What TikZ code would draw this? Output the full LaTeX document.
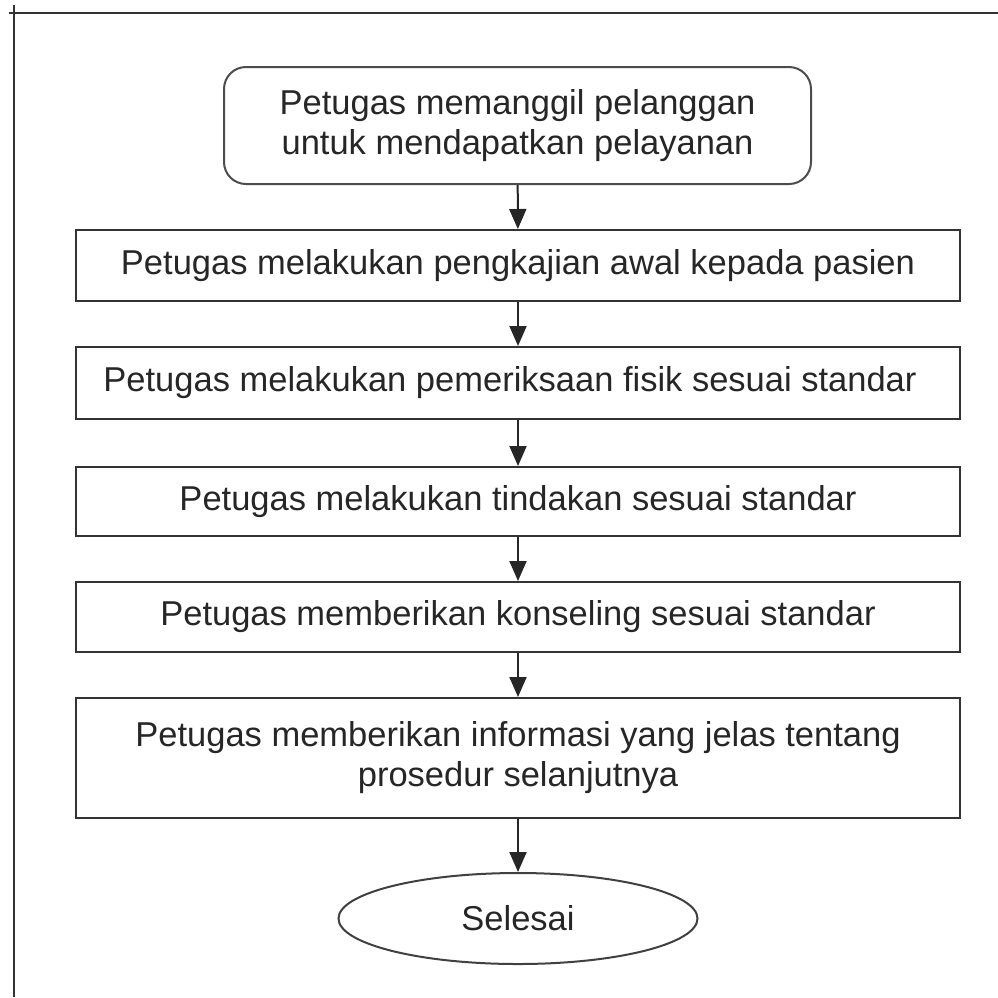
\documentclass[tikz,border=0pt]{standalone}
\usepackage{fontspec}
\setmainfont{Liberation Sans}
\usetikzlibrary{shapes.geometric,arrows.meta}
\begin{document}
\begin{tikzpicture}[x=1pt,y=-1pt,
  line width=2pt,
  every node/.style={font=\fontsize{34.5}{40}\selectfont, text=black!85, align=center, inner sep=0pt},
  stepbox/.style={draw=black!80, rectangle, minimum width=884pt},
  startbox/.style={draw=black!70, rectangle, rounded corners=22pt, minimum width=587pt, minimum height=117pt},
  endbox/.style={draw=black!75, ellipse, minimum width=359pt, minimum height=91pt},
  flow/.style={draw=black!85, -{Triangle[length=20pt,width=17pt]}}
]
\useasboundingbox (0,0) rectangle (998,997);
\coordinate (tl) at (9,13);
\coordinate (tr) at (998,13);
\coordinate (lt) at (14,5);
\coordinate (lb) at (14,997);
\draw[black!80] (tl) -- (tr);
\draw[black!80] (lt) -- (lb);

\node[startbox] (s) at (517.5,125.5) {Petugas memanggil pelanggan\\untuk mendapatkan pelayanan};
\node[stepbox, minimum height=71pt] (b1) at (518,265.5) {Petugas melakukan pengkajian awal kepada pasien};
\node[stepbox, minimum height=72pt] (b2) at (518,383) {Petugas melakukan pemeriksaan fisik sesuai standar\hspace{16pt}};
\node[stepbox, minimum height=69pt] (b3) at (518,501.5) {Petugas melakukan tindakan sesuai standar};
\node[stepbox, minimum height=70pt] (b4) at (518,617) {Petugas memberikan konseling sesuai standar};
\node[stepbox, minimum height=120pt] (b5) at (518,758) {Petugas memberikan informasi yang jelas tentang\\prosedur selanjutnya};
\node[endbox] (e) at (518,918.5) {Selesai};

\draw[flow] (s) -- (b1);
\draw[flow] (b1) -- (b2);
\draw[flow] (b2) -- (b3);
\draw[flow] (b3) -- (b4);
\draw[flow] (b4) -- (b5);
\draw[flow] (b5) -- (e);
\end{tikzpicture}
\end{document}
